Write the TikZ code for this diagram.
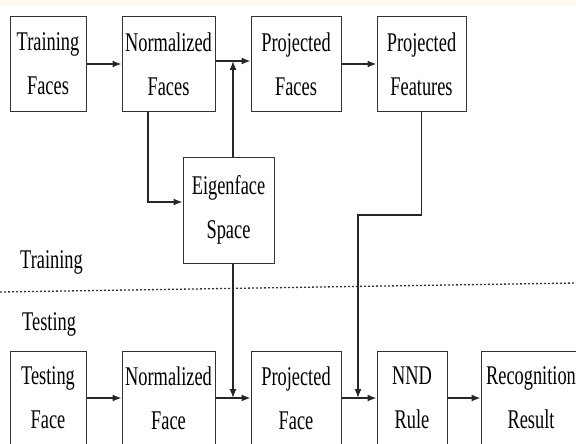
\documentclass[tikz,border=0pt]{standalone}
\usepackage{fontspec}
\setmainfont{Liberation Serif}[FakeStretch=0.68]
\usetikzlibrary{calc,arrows.meta}

\begin{document}
\begin{tikzpicture}[x=1pt,y=-1pt,
    blk/.style={draw=black!80,line width=1pt,align=center,inner sep=0pt,
      minimum height=94pt,font=\fontsize{27}{44}\selectfont},
    lbl/.style={inner sep=0pt,font=\fontsize{27}{44}\selectfont},
    con/.style={draw=black!85,line width=1.3pt,-{Latex[length=9pt,width=7pt]}},
    ln/.style={draw=black!85,line width=1.3pt}]
              \useasboundingbox (0,0) rectangle (576,444);
              \clip (0,0) rectangle (576,444);
              \fill[orange!6] (0,0) rectangle (576,6);
              % training row
              \node[blk,minimum width=76pt](trf)at(48,64){Training\\Faces};
              \node[blk,minimum width=93pt](nrf)at(168.5,64){Normalized\\Faces};
              \node[blk,minimum width=90pt](prf)at(296,64){Projected\\Faces};
              \node[blk,minimum width=89pt](pft)at(421.5,64){Projected\\Features};
              \node[blk,minimum width=91pt,minimum height=106pt](eig)at(228.5,210){Eigenface\\Space};
              % testing row
              \node[blk,minimum width=76pt](tsf)at(48,398){Testing\\Face};
              \node[blk,minimum width=93pt](nmf)at(168.5,398){Normalized\\Face};
              \node[blk,minimum width=90pt](pjf)at(296,398){Projected\\Face};
              \node[blk,minimum width=70pt](nnd)at(412,398){NND\\Rule};
              \node[blk,minimum width=100pt](rec)at(531,398){Recognition\\Result};
              % labels and divider
              \node[lbl,anchor=base west](trn)at(20,268){Training};
              \node[lbl,anchor=base west](tst)at(22,330){Testing};
              \draw[black!80,line width=1.3pt,dash pattern=on 2pt off 2pt] (0,292) -- (576,283);
              % helper points
              \coordinate (up) at (233,61);
              \coordinate (nb) at (148,202);
              \coordinate (dn) at (233,398);
              \coordinate (fx) at (358,215);
              \coordinate (fd) at (358,398);
              % connectors
              \draw[con](trf)--(nrf);
              \draw[con]([yshift=3pt]nrf.east)--([yshift=3pt]prf.west);
              \draw[con](prf)--(pft);
              \draw[con](eig.north -| up)--(up);
              \draw[con](nrf.south -| nb)--(nb)--(nb -| eig.west);
              \draw[con](eig.south -| dn)--(dn);
              \draw[con](pft.south)|-(fx)--(fd);
              \draw[con](tsf)--(nmf);
              \draw[con](nmf)--(pjf);
              \draw[con](pjf)--(nnd);
              \draw[con](nnd)--(rec);
            \end{tikzpicture}
\end{document}
